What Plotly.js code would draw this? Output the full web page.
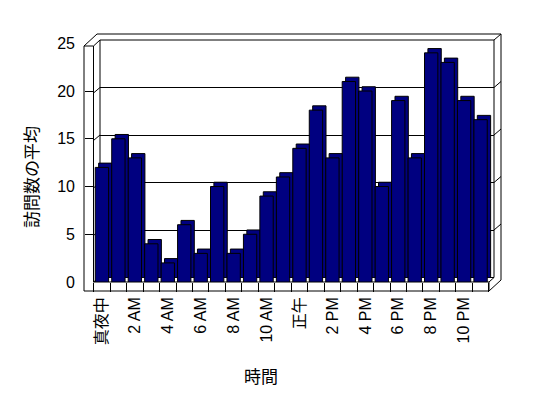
<!DOCTYPE html>
<html><head><meta charset="utf-8">
<script src="https://cdn.plot.ly/plotly-3.0.1.min.js"></script>
<style>body{margin:0;background:#fff}#c{width:548px;height:398px}</style>
</head><body><div id="c"></div>
<script>
const categories = ["真夜中","1 AM","2 AM","3 AM","4 AM","5 AM","6 AM","7 AM","8 AM","9 AM","10 AM","11 AM",
  "正午","1 PM","2 PM","3 PM","4 PM","5 PM","6 PM","7 PM","8 PM","9 PM","10 PM","11 PM"];
const visits = [12,15,13,4,2,6,3,10,3,5,9,11,14,18,13,21,20,10,19,13,24,23,19,17];
const yTicks = [0,5,10,15,20,25];
const tickText = categories.map((c,i)=> i%2===0 ? c : "");
const yTitle = "訪問数の平均";
const xTitle = "時間";

// pixel geometry of the 3D box (paper area spans L..R, T..B in pixels)
const L=20, R=501, T=34, B=300;
const fx = px => (px-L)/(R-L);
const fy = py => (B-py)/(B-T);
const xF0=93.7, xF1=488.8, yF0=282, yF25=43.3;   // front plane
const dX=3.4, dY=-4.3;                             // bar depth
const xB0=100, xB1=494, yB0=277.5, yB25=40;        // back wall
const yBack = v => yB0 + (yB25-yB0)*v/25;

const FONT = "Liberation Sans, Noto Sans CJK JP, sans-serif";
const none = (xa,ya)=>({type:'scatter', mode:'none', x:categories, y:visits, xaxis:xa, yaxis:ya,
  hoverinfo:'skip', showlegend:false});
const traces = [
  none('x','y'),
  {type:'bar', x:categories, y:visits, xaxis:'x2', yaxis:'y2', width:0.81,
   marker:{color:'#000080', line:{color:'#000', width:1}}, showlegend:false},
  {type:'bar', x:categories, y:visits, xaxis:'x3', yaxis:'y3', width:0.81,
   marker:{color:'#000080', line:{color:'#000', width:1}}, showlegend:false},
  none('x4','y3'),
  none('x3','y4')
];

const seg = (x0,y0,x1,y1)=>({type:'line', xref:'paper', yref:'paper', layer:'below',
  x0:fx(x0), y0:fy(y0), x1:fx(x1), y1:fy(y1), line:{color:'#000', width:1}});
const shapes = [
  seg(84,46,97,34), seg(93.5,46,100,40), seg(84,46,93.5,46),
  seg(97,34,501,34), seg(100,40,494,40), seg(494,40,501,34),
  seg(501,34,501,280), seg(501,280,489,291),
  seg(84,46,84,291), seg(93.5,46,93.5,282),
  seg(100,40,100,277.5), seg(494,40,494,277.5),
  seg(100,277.5,494,277.5), seg(93.5,282,100,277.5), seg(489,282,494,277.5),
  seg(93.5,282,489,282), seg(84,291,489,291), seg(489,282,489,291)
];
[5,10,15,20].forEach(v=>{
  const yb=yBack(v);
  shapes.push(seg(100,yb,93.5,yb+5.5));
  shapes.push(seg(494,yb,501,yb-6));
});

const tf = {family:FONT, size:16, color:'#000'};
const layout = {
  width:548, height:398, autosize:false,
  margin:{l:L, r:548-R, t:T, b:398-B, pad:0},
  paper_bgcolor:'#fff', plot_bgcolor:'rgba(0,0,0,0)',
  showlegend:false, font:tf,
  xaxis:{domain:[fx(xB0),fx(xB1)], anchor:'y', type:'category', showgrid:false, zeroline:false,
    showticklabels:false, ticks:'', showline:false, range:[-0.5,23.5]},
  yaxis:{domain:[fy(yB0),fy(yB25)], anchor:'x', range:[0,25], tickvals:yTicks, showgrid:true,
    gridcolor:'#000', gridwidth:1, zeroline:false, showticklabels:false, ticks:'', showline:false},
  xaxis2:{domain:[fx(xF0+dX),fx(xF1+dX)], anchor:'y2', type:'category', visible:false, range:[-0.5,23.5]},
  yaxis2:{domain:[fy(yF0+dY),fy(yF25+dY)], anchor:'x2', range:[0,25], visible:false},
  xaxis3:{domain:[fx(xF0),fx(xF1)], anchor:'y3', type:'category', range:[-0.5,23.5],
    tickmode:'array', tickvals:categories, tickson:'boundaries',
    ticks:'outside', ticklen:9, tickcolor:'#000', tickwidth:1, showticklabels:false,
    showgrid:false, zeroline:false, showline:false},
  yaxis3:{domain:[fy(yF0),fy(yF25)], anchor:'free', position:fx(84), range:[0,25],
    tickmode:'array', tickvals:yTicks, ticks:'inside', ticklen:9, tickcolor:'#000', tickwidth:1,
    showticklabels:false, showgrid:false, zeroline:false, showline:false},
  // label-only axes
  xaxis4:{overlaying:'x3', anchor:'free', position:fy(293), type:'category', range:[-0.5,23.5],
    tickmode:'array', tickvals:categories, ticktext:tickText, ticks:'', tickangle:-90,
    tickfont:tf, showgrid:false, zeroline:false, showline:false},
  yaxis4:{overlaying:'y3', anchor:'free', position:fx(75), range:[0,25],
    tickmode:'array', tickvals:yTicks, ticks:'', tickfont:tf,
    showgrid:false, zeroline:false, showline:false},
  shapes:shapes,
  annotations:[
    {xref:'paper', yref:'paper', x:fx(32), y:fy(177), xanchor:'center', yanchor:'middle',
     text:yTitle, textangle:-90, showarrow:false, font:{family:FONT, size:17, color:'#000'}},
    {xref:'paper', yref:'paper', x:fx(261), y:fy(377), xanchor:'center', yanchor:'middle',
     text:xTitle, showarrow:false, font:{family:FONT, size:17, color:'#000'}}
  ]
};
Plotly.newPlot('c', traces, layout, {staticPlot:true});
</script></body></html>
